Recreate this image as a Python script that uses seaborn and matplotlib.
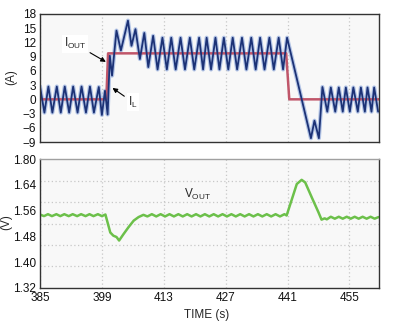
import matplotlib
matplotlib.use("Agg")
import matplotlib.pyplot as plt
import seaborn as sns
import pandas as pd

# ---------------- data ----------------
time_ticks = [385, 399, 413, 427, 441, 455]
time_labels = ["385", "399", "413", "427", "441", "455"]

amp_ticks = [-9, -6, -3, 0, 3, 6, 9, 12, 15, 18]
amp_labels = ["\u22129", "\u22126", "\u22123", "0", "3", "6", "9", "12", "15", "18"]

volt_ticks = [1.32, 1.40, 1.48, 1.56, 1.64, 1.72]
volt_labels = ["1.32", "1.40", "1.48", "1.56", "1.64", "1.80"]

# inductor current I_L (vertices of the ripple waveform)
il_t = [385.0, 386.0, 386.9, 387.8, 388.8, 389.7, 390.6, 391.6, 392.5, 393.5,
        394.4, 395.4, 396.3, 397.2, 398.3, 399.0, 399.7, 400.3, 400.8, 401.3,
        402.3, 403.3, 404.9, 405.7, 406.6, 407.6, 408.6, 409.5, 410.6, 411.6,
        412.7, 413.7, 414.7, 415.7, 416.8, 417.8, 418.9, 419.9, 421.0, 421.9,
        422.7, 423.7, 424.7, 425.6, 426.6, 427.6, 428.6, 429.6, 430.7, 431.7,
        432.8, 433.8, 434.8, 435.8, 436.9, 437.9, 439.0, 440.0, 440.9, 443.2,
        446.3, 447.1, 448.1, 448.9, 450.0, 450.8, 451.8, 452.6, 453.5, 454.2,
        455.1, 455.9, 456.9, 457.6, 458.5, 459.1, 460.0, 460.6, 461.5]
il_a = [2.7, -2.8, 2.7, -2.8, 2.7, -2.8, 2.7, -2.8, 2.7, -2.8,
        2.7, -2.8, 2.7, -2.8, 2.6, -3.3, 1.8, -3.2, 9.2, 5.0,
        14.5, 10.3, 16.6, 11.3, 14.8, 8.5, 14.0, 6.8, 13.4, 6.3,
        13.0, 6.3, 13.0, 6.3, 13.0, 6.3, 13.0, 6.3, 13.0, 6.3,
        13.0, 6.3, 13.0, 6.3, 13.0, 6.3, 13.0, 6.3, 13.0, 6.3,
        13.0, 6.3, 13.0, 6.3, 13.0, 6.3, 13.0, 6.3, 13.0, 4.0,
        -8.2, -4.5, -8.2, 2.6, -2.6, 2.5, -2.6, 2.5, -2.6, 2.5,
        -2.6, 2.5, -2.6, 2.5, -2.6, 2.5, -2.6, 2.5, -2.6]

# load current I_OUT
iout_t = [385.0, 400.0, 400.4, 440.7, 441.4, 461.7]
iout_a = [0.0, 0.0, 9.7, 9.7, 0.0, 0.0]

# output voltage V_OUT
vout_t = [385.0, 385.9, 386.8, 387.7, 388.7, 389.6, 390.5, 391.5, 392.4, 393.4,
          394.3, 395.3, 396.2, 397.1, 398.1, 399.0, 399.8,
          400.9, 401.6, 402.3, 402.9, 403.9, 405.0, 406.2, 407.3, 408.4,
          409.3, 410.3, 411.3, 412.3, 413.3, 414.3, 415.3, 416.3, 417.3, 418.3,
          419.3, 420.3, 421.3, 422.3, 423.3, 424.3, 425.3, 426.3, 427.3, 428.3,
          429.3, 430.3, 431.3, 432.3, 433.3, 434.3, 435.3, 436.3, 437.3, 438.3,
          439.3, 440.3, 440.8,
          442.0, 443.1, 444.2, 445.0, 446.5, 448.0, 448.7, 449.4, 449.9,
          450.8, 451.7, 452.6, 453.5, 454.4, 455.3, 456.2, 457.1, 458.0, 458.9,
          459.8, 460.7, 461.6]
vout_v = [1.548, 1.543, 1.549, 1.543, 1.549, 1.543, 1.549, 1.543, 1.549, 1.543,
          1.549, 1.543, 1.549, 1.543, 1.549, 1.543, 1.548,
          1.492, 1.482, 1.478, 1.467, 1.487, 1.508, 1.529, 1.540, 1.547,
          1.542, 1.549, 1.542, 1.549, 1.542, 1.549, 1.542, 1.549, 1.542, 1.549,
          1.542, 1.549, 1.542, 1.549, 1.542, 1.549, 1.542, 1.549, 1.542, 1.549,
          1.542, 1.549, 1.542, 1.549, 1.542, 1.549, 1.542, 1.549, 1.542, 1.549,
          1.542, 1.549, 1.545,
          1.596, 1.643, 1.656, 1.648, 1.601, 1.555, 1.532, 1.536, 1.533,
          1.541, 1.535, 1.541, 1.535, 1.541, 1.535, 1.541, 1.535, 1.541, 1.535,
          1.541, 1.535, 1.540]

df_il = pd.DataFrame({"t": il_t, "a": il_a})
df_iout = pd.DataFrame({"t": iout_t, "a": iout_a})
df_v = pd.DataFrame({"t": vout_t, "v": vout_v})

# ---------------- style ----------------
sns.set_style("white")
plt.rcParams["font.family"] = ["Liberation Sans Narrow", "Liberation Sans", "DejaVu Sans"]
plt.rcParams["mathtext.fontset"] = "custom"
plt.rcParams["mathtext.rm"] = "Liberation Sans"
plt.rcParams["mathtext.default"] = "rm"

fig = plt.figure(figsize=(4.15, 3.22), dpi=100)
ax1 = fig.add_axes([40 / 415, 1 - 142 / 322, 339 / 415, 128 / 322])
ax2 = fig.add_axes([40 / 415, 1 - 287.7 / 322, 339 / 415, 128.4 / 322])

xlim = (385, 461.7)
grid_kw = dict(color="#c8c8c8", linestyle=(0, (1, 2)), linewidth=0.9)

for ax in (ax1, ax2):
    ax.set_facecolor("#f8f8f8")
    ax.set_xlim(*xlim)
    ax.set_xticks(time_ticks)
    ax.tick_params(length=0, labelsize=8.5, colors="#111111", pad=3)
    for s in ax.spines.values():
        s.set_color("#333333")
        s.set_linewidth(1.0)

# top panel: currents
sns.lineplot(data=df_il, x="t", y="a", ax=ax1, color="#9db4e0", lw=3.0, alpha=0.75)
sns.lineplot(data=df_iout, x="t", y="a", ax=ax1, color="#c0566a", lw=1.8)
sns.lineplot(data=df_il, x="t", y="a", ax=ax1, color="#1c3276", lw=1.3)
ax1.set_ylim(-9, 18)
ax1.set_yticks(amp_ticks)
ax1.set_yticklabels(amp_labels)
ax1.set_xticklabels([])
ax1.set_yticks([-3, 3, 9, 15], minor=True)
ax1.tick_params(which="minor", length=0)
ax1.grid(False)
ax1.grid(True, which="minor", axis="y", **grid_kw)
ax1.grid(True, which="major", axis="x", **grid_kw)
ax1.set_axisbelow(True)
ax1.set_xlabel("")
ax1.set_ylabel("")

ax1.annotate(r"I$_{\mathrm{OUT}}$", xy=(399.9, 7.9), xytext=(392.9, 11.7),
             fontsize=8.5, ha="center", va="center",
             bbox=dict(fc="white", ec="none", pad=1.0),
             arrowprops=dict(arrowstyle="-|>", color="black", lw=0.8,
                             mutation_scale=7, shrinkA=2, shrinkB=0))
ax1.annotate(r"I$_{\mathrm{L}}$", xy=(401.4, 2.4), xytext=(406.0, -0.6),
             fontsize=8.5, ha="center", va="center",
             bbox=dict(fc="white", ec="none", pad=1.0),
             arrowprops=dict(arrowstyle="-|>", color="black", lw=0.8,
                             mutation_scale=7, shrinkA=2, shrinkB=0))

# bottom panel: output voltage
sns.lineplot(data=df_v, x="t", y="v", ax=ax2, color="#6cc04a", lw=1.8)
ax2.set_ylim(1.32, 1.72)
ax2.set_yticks(volt_ticks)
ax2.set_yticklabels(volt_labels)
ax2.set_xticklabels(time_labels)
ax2.set_yticks([1.32 + k * 0.4 / 6 for k in range(1, 6)], minor=True)
ax2.tick_params(which="minor", length=0)
ax2.grid(False)
ax2.grid(True, which="minor", axis="y", **grid_kw)
ax2.grid(True, which="major", axis="x", **grid_kw)
ax2.set_axisbelow(True)
ax2.spines["top"].set_color("#a0a0a0")
ax2.set_xlabel("")
ax2.set_ylabel("")
ax2.text(420.7, 1.612, r"V$_{\mathrm{OUT}}$", fontsize=8.5, ha="center", va="center")

fig.text(11 / 415, 1 - 77 / 322, "(A)", rotation=90, ha="center", va="center", fontsize=8.5)
fig.text(6 / 415, 1 - 222 / 322, "(V)", rotation=90, ha="center", va="center", fontsize=8.5)
fig.text(207 / 415, 1 - 315 / 322, "TIME (s)", ha="center", va="center", fontsize=8.5)

fig.savefig("out.png", dpi=100)
